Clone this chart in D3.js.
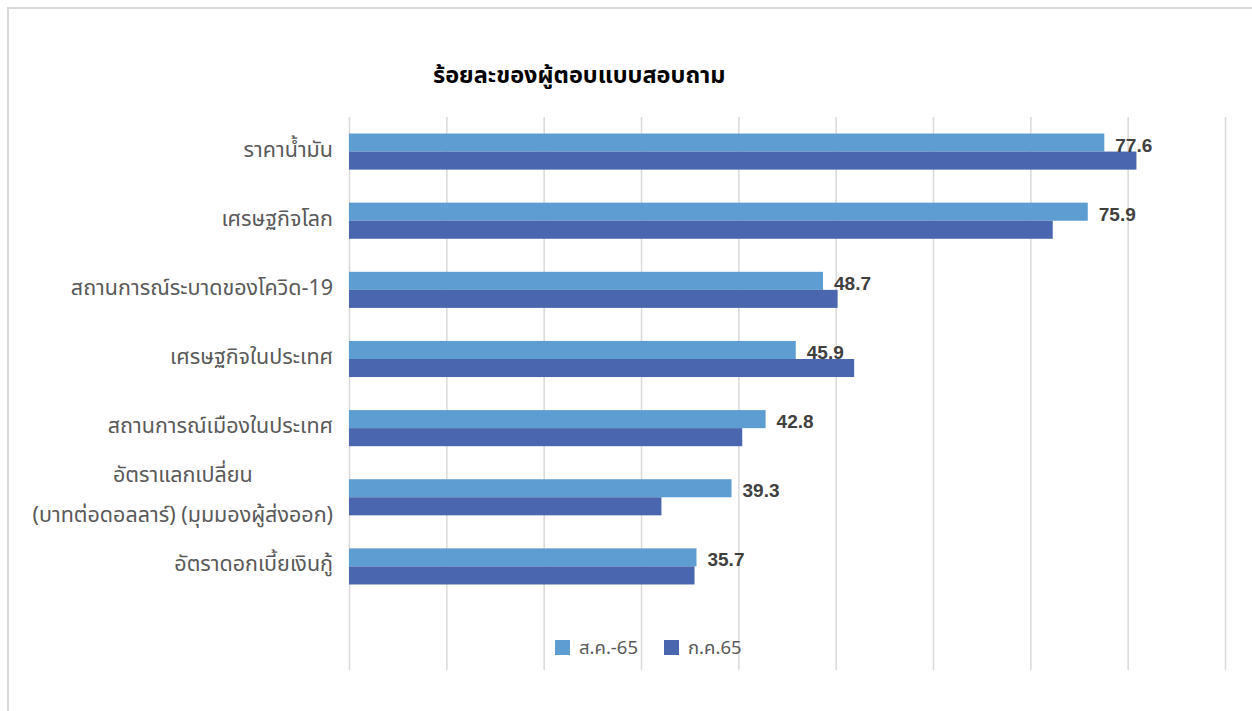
<!DOCTYPE html>
<html>
<head>
<meta charset="utf-8">
<script src="https://cdn.jsdelivr.net/npm/d3@7"></script>
<style>
  body { margin: 0; background: #fff; }
  .thai { font-family: "Noto Sans Thai", "Leelawadee UI", Tahoma, "Noto Sans", sans-serif; }
</style>
</head>
<body>
<div id="chart"></div>
<script>
const categories = [
  ['ราคาน้ำมัน'],
  ['เศรษฐกิจโลก'],
  ['สถานการณ์ระบาดของโควิด-19'],
  ['เศรษฐกิจในประเทศ'],
  ['สถานการณ์เมืองในประเทศ'],
  ['อัตราแลกเปลี่ยน', '(บาทต่อดอลลาร์) (มุมมองผู้ส่งออก)'],
  ['อัตราดอกเบี้ยเงินกู้']
];
const seriesNames = ['ส.ค.-65', 'ก.ค.65'];
const aug65 = [77.6, 75.9, 48.7, 45.9, 42.8, 39.3, 35.7];
const jul65 = [80.9, 72.3, 50.2, 51.9, 40.4, 32.1, 35.5];
const xTicks = [0, 10, 20, 30, 40, 50, 60, 70, 80, 90];
const title = 'ร้อยละของผู้ตอบแบบสอบถาม';

const colors = ['#5E9DD2', '#4966AE'];
const W = 1252, H = 711;
const plotLeft = 349, plotRight = 1225, plotTop = 117, plotBottom = 670;
const catBottom = 601;

const svg = d3.select('#chart').append('svg')
  .attr('width', W).attr('height', H);

// outer frame (left and top edges only visible)
svg.append('path')
  .attr('d', `M8,${H} L8,8 L${W},8`)
  .attr('fill', 'none')
  .attr('stroke', '#D9D9D9')
  .attr('stroke-width', 2);

const x = d3.scaleLinear().domain([0, 90]).range([plotLeft, plotRight]);
const keys = categories.map((c, i) => i);
const y = d3.scaleBand().domain(keys).range([plotTop, catBottom])
  .paddingInner(0.478).paddingOuter(0.239);
const ySub = d3.scaleBand().domain([0, 1]).range([0, y.bandwidth()]);

// gridlines
svg.append('g')
  .attr('transform', `translate(0,${plotBottom})`)
  .call(d3.axisBottom(x).tickValues(xTicks).tickSize(-(plotBottom - plotTop)).tickFormat(''))
  .call(g => g.select('.domain').remove())
  .call(g => g.selectAll('line').attr('stroke', '#D9D9D9').attr('stroke-width', 1.5));

// title
svg.append('text')
  .attr('class', 'thai')
  .attr('x', 433).attr('y', 83)
  .attr('font-size', 23.5).attr('font-weight', 'bold')
  .attr('fill', '#000')
  .text(title);

const series = [aug65, jul65];

series.forEach((vals, s) => {
  svg.append('g').selectAll('rect')
    .data(vals)
    .enter()
    .append('rect')
    .attr('x', x(0))
    .attr('y', (d, i) => y(i) + ySub(s))
    .attr('width', d => x(d) - x(0))
    .attr('height', ySub.bandwidth())
    .attr('fill', colors[s]);
});

// value labels for ส.ค.-65
svg.append('g').selectAll('text')
  .data(aug65)
  .enter()
  .append('text')
  .attr('x', d => x(d) + 11)
  .attr('y', (d, i) => y(i) + ySub.bandwidth())
  .attr('font-family', '"Liberation Sans Narrow", "Arial Narrow", Arial, sans-serif')
  .attr('font-size', 19)
  .attr('font-weight', 'bold')
  .attr('fill', '#404040')
  .text(d => d.toFixed(1));

// category labels
const labelX = plotLeft - 16;
const catG = svg.append('g').attr('class', 'thai');
categories.forEach((lines, i) => {
  const cy = y(i) + y.bandwidth() / 2;
  const t = catG.append('text')
    .attr('font-size', 21.5)
    .attr('fill', '#595959');
  if (lines.length === 1) {
    t.attr('x', labelX).attr('y', cy + 5).attr('text-anchor', 'end').text(lines[0]);
  } else {
    const spans = lines.map((ln, k) => t.append('tspan')
      .attr('y', cy - 15 + k * 40)
      .text(ln));
    const widths = spans.map(sp => sp.node().getComputedTextLength());
    const maxW = d3.max(widths);
    const cx = labelX - maxW / 2;
    spans.forEach(sp => sp.attr('x', cx));
    t.attr('text-anchor', 'middle');
  }
});

// legend
const legendPos = [555, 664];
const legend = svg.append('g');
seriesNames.forEach((name, s) => {
  legend.append('rect')
    .attr('x', legendPos[s]).attr('y', 640)
    .attr('width', 15).attr('height', 15)
    .attr('fill', colors[s]);
  legend.append('text')
    .attr('class', 'thai')
    .attr('x', legendPos[s] + 24).attr('y', 654)
    .attr('font-size', 18.5)
    .attr('fill', '#595959')
    .text(name);
});
</script>
</body>
</html>
